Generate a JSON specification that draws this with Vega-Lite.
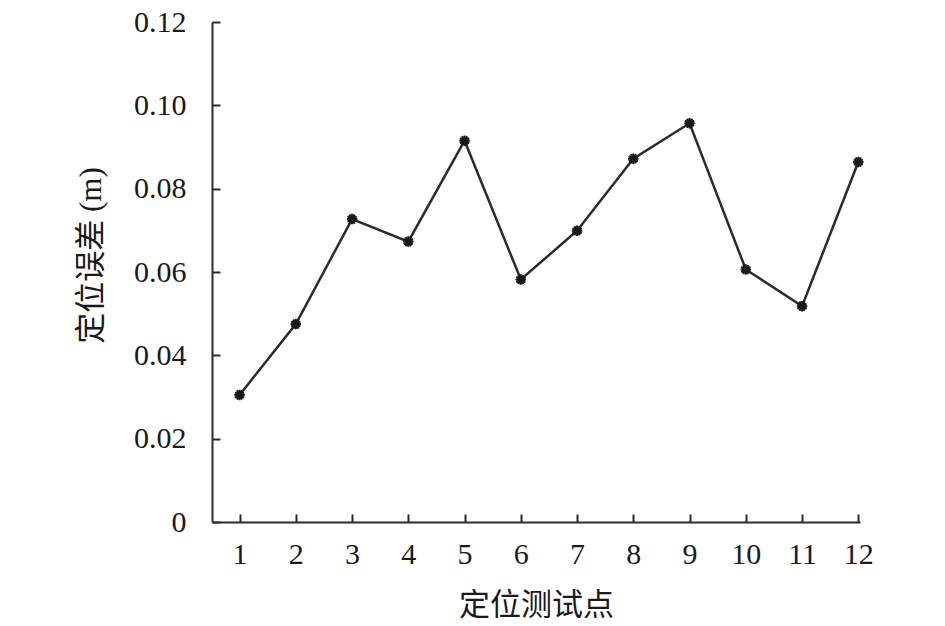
{
  "$schema": "https://vega.github.io/schema/vega-lite/v6.json",
  "autosize": "none",
  "width": 648,
  "height": 500,
  "padding": {"left": 212, "top": 22, "right": 85, "bottom": 104},
  "background": "white",
  "config": {
    "view": {"stroke": null},
    "axis": {
      "grid": false,
      "domainColor": "#2b2b2b",
      "domainWidth": 2,
      "tickColor": "#2b2b2b",
      "tickWidth": 2,
      "labelFont": "Liberation Serif",
      "labelFontSize": 30,
      "labelColor": "#1a1a1a",
      "titleFont": "Liberation Serif, Noto Sans CJK SC",
      "titleFontSize": 31,
      "titleFontWeight": "normal",
      "titleColor": "#1a1a1a"
    }
  },
  "data": {
    "values": [
      {"point": 1, "error": 0.0305},
      {"point": 2, "error": 0.0475},
      {"point": 3, "error": 0.0727},
      {"point": 4, "error": 0.0673},
      {"point": 5, "error": 0.0915},
      {"point": 6, "error": 0.0582},
      {"point": 7, "error": 0.0699},
      {"point": 8, "error": 0.0872},
      {"point": 9, "error": 0.0957},
      {"point": 10, "error": 0.0606},
      {"point": 11, "error": 0.0518},
      {"point": 12, "error": 0.0864}
    ]
  },
  "encoding": {
    "x": {
      "field": "point",
      "type": "quantitative",
      "scale": {"domain": [0.51, 12.03], "nice": false, "zero": false},
      "axis": {
        "title": "定位测试点",
        "values": [1, 2, 3, 4, 5, 6, 7, 8, 9, 10, 11, 12],
        "tickSize": -8,
        "labelPadding": 25,
        "labelFlush": false,
        "labelOverlap": false,
        "titleY": 83,
        "titleBaseline": "middle"
      }
    },
    "y": {
      "field": "error",
      "type": "quantitative",
      "scale": {"domain": [0, 0.12], "nice": false},
      "axis": {
        "title": "定位误差 (m)",
        "values": [0, 0.02, 0.04, 0.06, 0.08, 0.1, 0.12],
        "labelExpr": "datum.value == 0 ? '0' : format(datum.value, '.2f')",
        "tickSize": -8,
        "labelPadding": 34,
        "labelFlush": false,
        "labelOverlap": false,
        "titleX": -121,
        "titleY": 233,
        "titleBaseline": "middle"
      }
    }
  },
  "layer": [
    {
      "mark": {"type": "line", "color": "#2b2b2b", "strokeWidth": 2.5}
    },
    {
      "mark": {
        "type": "point",
        "shape": "M0,-1L0,1M-0.87,-0.5L0.87,0.5M-0.87,0.5L0.87,-0.5M-0.5,-0.87L0.5,0.87M-0.5,0.87L0.5,-0.87M-1,0L1,0",
        "filled": false,
        "stroke": "#1a1a1a",
        "strokeWidth": 2,
        "opacity": 1,
        "size": 110
      }
    }
  ]
}
